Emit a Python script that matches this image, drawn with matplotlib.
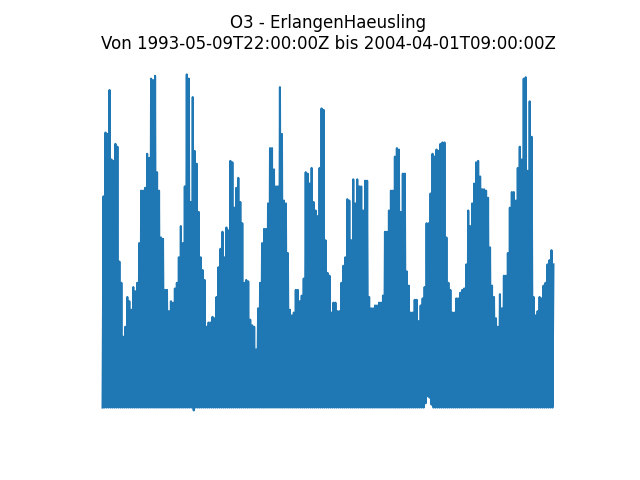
import numpy as np
import pandas as pd
import matplotlib
matplotlib.use("Agg")
import matplotlib.pyplot as plt

station = "ErlangenHaeusling"
component = "O3"
t_start = "1993-05-09T22:00:00Z"
t_end = "2004-04-01T09:00:00Z"

# upper envelope of the hourly series (~17 day steps)
o3_max = [
    149, 194, 193, 224, 175, 174, 186, 184, 103, 88,
    50, 57, 78, 75, 69, 85, 82, 88, 116, 153,
    153, 155, 179, 176, 232, 231, 234, 166, 153, 120,
    119, 83, 83, 68, 75, 74, 84, 88, 106, 128,
    116, 156, 235, 232, 145, 219, 181, 172, 138, 106,
    97, 90, 57, 60, 60, 64, 63, 78, 99, 112,
    124, 106, 127, 125, 174, 173, 141, 155, 162, 145,
    130, 88, 90, 89, 62, 58, 57, 41, 70, 88,
    116, 126, 126, 144, 183, 183, 168, 156, 156, 226,
    193, 146, 144, 109, 69, 65, 67, 83, 83, 75,
    79, 91, 166, 165, 158, 169, 145, 139, 135, 169,
    211, 210, 118, 95, 93, 67, 74, 74, 68, 68,
    88, 100, 106, 147, 146, 118, 161, 144, 161, 156,
    156, 139, 160, 160, 78, 70, 70, 72, 72, 74,
    74, 79, 124, 124, 139, 153, 153, 177, 183, 182,
    138, 165, 165, 96, 86, 67, 67, 76, 76, 61,
    72, 77, 85, 130, 130, 151, 179, 177, 182, 181,
    186, 187, 187, 120, 88, 83, 67, 67, 77, 77,
    81, 83, 84, 101, 139, 128, 144, 158, 173, 174,
    163, 154, 154, 153, 148, 113, 86, 78, 63, 57,
    80, 70, 93, 93, 109, 141, 152, 152, 146, 169,
    184, 175, 232, 233, 167, 216, 191, 78, 65, 68,
    78, 77, 86, 88, 101, 104, 111, 101,
]

# lower envelope, zero almost everywhere
o3_min = [0.0] * len(o3_max)
o3_min[46] = -2
o3_min[163:167] = [3, 8, 7, 2]

values = np.column_stack([o3_min, o3_max]).ravel()
times = pd.date_range(t_start.rstrip("Z"), t_end.rstrip("Z"), periods=len(values))

fig, ax = plt.subplots(figsize=(6.4, 4.8), dpi=100)
ax.plot(times, values)
ax.set_title(f"{component} - {station}\nVon {t_start} bis {t_end}")
ax.axis("off")

fig.savefig("out.png")
